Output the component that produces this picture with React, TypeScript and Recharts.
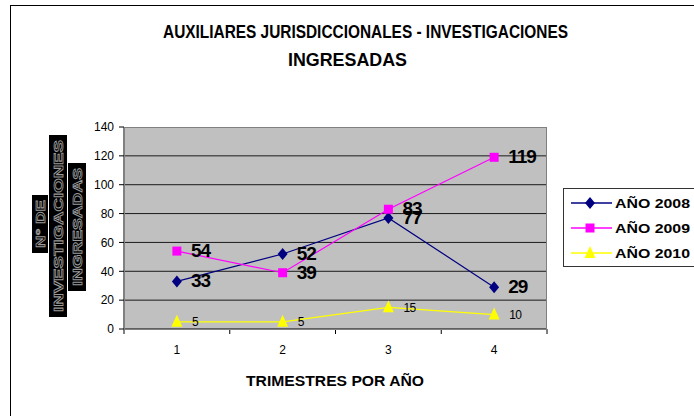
import { LineChart, Line, XAxis, YAxis, CartesianGrid, LabelList } from 'recharts';

const TRIMESTRES = [1, 2, 3, 4];
const ANO_2008 = [33, 52, 77, 29];
const ANO_2009 = [54, 39, 83, 119];
const ANO_2010 = [5, 5, 15, 10];
const Y_TICKS = [0, 20, 40, 60, 80, 100, 120, 140];
const GRID_VALUES = [20, 40, 60, 80, 100, 120];
const X_TICKS = [0.5, 1, 1.5, 2, 2.5, 3, 3.5, 4, 4.5];

const SERIES = [
  { key: 'a2008', name: 'AÑO 2008', color: '#000080', shape: 'diamond', big: true },
  { key: 'a2009', name: 'AÑO 2009', color: '#ff00ff', shape: 'square', big: true },
  { key: 'a2010', name: 'AÑO 2010', color: '#ffff00', shape: 'triangle', big: false },
];

const data = TRIMESTRES.map((t, i) => ({
  trimestre: t,
  a2008: ANO_2008[i],
  a2009: ANO_2009[i],
  a2010: ANO_2010[i],
}));

const FONT = '"Liberation Sans", Arial, sans-serif';

function Marker({ shape, color, cx, cy }: { shape: string; color: string; cx: number; cy: number }) {
  if (shape === 'diamond') {
    return <polygon points={`${cx},${cy - 6} ${cx + 5},${cy} ${cx},${cy + 6} ${cx - 5},${cy}`} fill={color} />;
  }
  if (shape === 'square') {
    return <rect x={cx - 4.5} y={cy - 4.5} width={9} height={9} fill={color} />;
  }
  return <polygon points={`${cx},${cy - 7} ${cx + 5.5},${cy + 5} ${cx - 5.5},${cy + 5}`} fill={color} />;
}

function XTick(props: any) {
  const { x, y, payload } = props;
  const v = payload.value;
  if (Number.isInteger(v)) {
    return (
      <text x={x} y={y + 25} textAnchor="middle" fontSize={12} fill="#000" fontFamily={FONT}>
        {v}
      </text>
    );
  }
  return <line x1={x} y1={y} x2={x} y2={y + 5} stroke="#000" />;
}

function makeLabel(big: boolean) {
  return (props: any) => {
    const { x, y, value } = props;
    if (big) {
      return (
        <text x={x + 14} y={y + 6} fontSize={19} fontWeight="bold" letterSpacing={-1} fill="#000" fontFamily={FONT}>
          {value}
        </text>
      );
    }
    return (
      <text x={x + 15} y={y + 4.5} fontSize={12} letterSpacing={-0.5} fill="#000" fontFamily={FONT}>
        {value}
      </text>
    );
  };
}

function Overlay() {
  const yLabel = [
    { text: 'N° DE', x0: 32, x1: 48, y0: 195, y1: 253 },
    { text: 'INVESTIGACIONES', x0: 49, x1: 67, y0: 135, y1: 317 },
    { text: 'INGRESADAS', x0: 68, x1: 86, y0: 163, y1: 291 },
  ];
  return (
    <svg width={694} height={416} style={{ position: 'absolute', left: 0, top: 0, pointerEvents: 'none' }}>
      <rect x={10.5} y={5.5} width={700} height={420} fill="none" stroke="#000" />
      <rect x={124.5} y={127.5} width={422} height={202} fill="none" stroke="#808080" />
      <g fontFamily={FONT} fontWeight="bold" fill="#000">
        <text x={365.5} y={37.5} fontSize={18} textAnchor="middle" textLength={405} lengthAdjust="spacingAndGlyphs">
          AUXILIARES JURISDICCIONALES - INVESTIGACIONES
        </text>
        <text x={347.5} y={65.5} fontSize={18} textAnchor="middle" textLength={119} lengthAdjust="spacingAndGlyphs">
          INGRESADAS
        </text>
        <text x={335} y={386} fontSize={14} textAnchor="middle" textLength={178} lengthAdjust="spacingAndGlyphs">
          TRIMESTRES POR AÑO
        </text>
      </g>
      {yLabel.map((l) => {
        const cx = (l.x0 + l.x1) / 2;
        const cy = (l.y0 + l.y1) / 2;
        return (
          <g key={l.text}>
            <rect x={l.x0} y={l.y0} width={l.x1 - l.x0} height={l.y1 - l.y0} fill="#000" />
            <text
              x={cx}
              y={cy + 5}
              transform={`rotate(-90, ${cx}, ${cy})`}
              textAnchor="middle"
              fontSize={13}
              fontWeight="bold"
              fontFamily={FONT}
              fill="#000"
              stroke="#9a9a9a"
              strokeWidth={0.8}
              textLength={l.y1 - l.y0 - 10}
              lengthAdjust="spacingAndGlyphs"
            >
              {l.text}
            </text>
          </g>
        );
      })}
      <rect x={563.5} y={188.5} width={140} height={78} fill="#fff" stroke="#333" />
      {SERIES.map((s, i) => {
        const cy = 203 + i * 25;
        return (
          <g key={s.key}>
            <line x1={571} y1={cy} x2={612} y2={cy} stroke={s.color} strokeWidth={1.5} />
            <Marker shape={s.shape} color={s.color} cx={590} cy={cy} />
            <text
              x={615}
              y={cy + 5}
              fontSize={13}
              fontWeight="bold"
              fontFamily={FONT}
              fill="#000"
              textLength={75}
              lengthAdjust="spacingAndGlyphs"
            >
              {s.name}
            </text>
          </g>
        );
      })}
    </svg>
  );
}

export default function App() {
  return (
    <div style={{ position: 'absolute', left: 0, top: 0, width: 694, height: 416, background: '#fff' }}>
      <LineChart width={694} height={416} data={data} margin={{ top: 127, right: 147, bottom: 57, left: 84 }}>
        <CartesianGrid
          vertical={false}
          horizontalValues={GRID_VALUES}
          stroke="#1a1a1a"
          fill="#c0c0c0"
          fillOpacity={1}
        />
        <XAxis
          dataKey="trimestre"
          type="number"
          domain={[0.5, 4.5]}
          ticks={X_TICKS}
          interval={0}
          height={30}
          tickSize={0}
          tickMargin={0}
          tickLine={false}
          axisLine={{ stroke: '#000' }}
          tick={<XTick />}
        />
        <YAxis
          domain={[0, 140]}
          ticks={Y_TICKS}
          interval={0}
          width={40}
          tickSize={5}
          tickMargin={5}
          axisLine={{ stroke: '#000' }}
          tickLine={{ stroke: '#000' }}
          tick={{ fill: '#000', fontSize: 12, fontFamily: FONT }}
        />
        {SERIES.map((s) => (
          <Line
            key={s.key}
            type="linear"
            dataKey={s.key}
            name={s.name}
            stroke={s.color}
            strokeWidth={1.2}
            isAnimationActive={false}
            dot={(p: any) => <Marker key={`${s.key}-${p.index}`} shape={s.shape} color={s.color} cx={p.cx} cy={p.cy} />}
            activeDot={false}
          >
            <LabelList dataKey={s.key} content={makeLabel(s.big)} />
          </Line>
        ))}
      </LineChart>
      <Overlay />
    </div>
  );
}
